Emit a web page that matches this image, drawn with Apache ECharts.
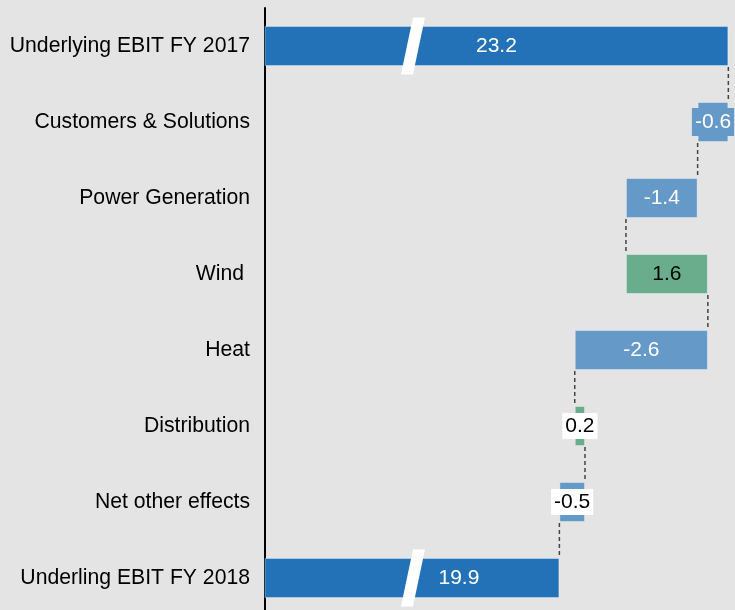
<!DOCTYPE html>
<html>
<head>
<meta charset="utf-8">
<script src="https://cdn.jsdelivr.net/npm/echarts@6/dist/echarts.min.js"></script>
<style>
  html, body { margin: 0; padding: 0; background: #e4e4e4; overflow: hidden; }
  #chart { width: 735px; height: 616px; }
</style>
</head>
<body>
<div id="chart"></div>
<script>
  // waterfall data, top to bottom
  var categories = ['Underlying EBIT FY 2017', 'Customers & Solutions', 'Power Generation', 'Wind ',
    'Heat', 'Distribution', 'Net other effects', 'Underling EBIT FY 2018'];
  var changes = [23.2, -0.6, -1.4, 1.6, -2.6, 0.2, -0.5, 19.9];
  var isTotal = [true, false, false, false, false, false, false, true];
  // where the white break slash sits on the two total bars
  var breakValue = 17.04;

  var COL_TOTAL = '#2372b7';
  var COL_NEG = '#6499c8';
  var COL_POS = '#6aad8c';
  var FONT = '"Liberation Sans", Arial, sans-serif';

  var baseData = [], barData = [], connectors = [], breaks = [];
  var running = 0;
  for (var i = 0; i < changes.length; i++) {
    var v = changes[i];
    var start, end;
    if (isTotal[i]) {
      start = 0; end = v;
      running = v;
      breaks.push([breakValue, i]);
    } else {
      start = running; end = running + v;
      running = end;
    }
    var lo = Math.min(start, end), hi = Math.max(start, end);
    baseData.push(lo);
    var color = isTotal[i] ? COL_TOTAL : (v < 0 ? COL_NEG : COL_POS);
    var label = { color: '#fff' };
    if (!isTotal[i] && v > 0) label.color = '#000';
    if (Math.abs(v) < 0.55 && !isTotal[i]) {
      label = { color: '#000', backgroundColor: '#fff', padding: [3, 3, 2, 3] };
    } else if (!isTotal[i] && Math.abs(v) < 1) {
      label = { color: '#fff', backgroundColor: color, padding: [4, 3, 3, 3] };
    }
    if (i === changes.length - 1) label.offset = [47, 0];
    barData.push({
      value: hi - lo,
      display: v,
      itemStyle: { color: color },
      label: label
    });
    if (i < changes.length - 1) connectors.push([Math.round(running * 10) / 10, i]);
  }

  var myChart = echarts.init(document.getElementById('chart'));
  var option = {
    backgroundColor: '#e4e4e4',
    animation: false,
    grid: { left: 265, right: 0, top: 8, bottom: 0 },
    xAxis: {
      type: 'value',
      min: 14.15,
      max: 23.33,
      show: false,
      splitLine: { show: false }
    },
    yAxis: {
      type: 'category',
      inverse: true,
      data: categories,
      axisLine: { show: true, lineStyle: { color: '#000', width: 2 } },
      axisTick: { show: false },
      axisLabel: { margin: 15, fontSize: 21.2, color: '#000', fontFamily: FONT }
    },
    series: [
      {
        type: 'bar',
        stack: 'w',
        barWidth: 40,
        itemStyle: { color: 'transparent' },
        silent: true,
        data: baseData
      },
      {
        type: 'bar',
        stack: 'w',
        barWidth: 40,
        itemStyle: { borderColor: 'rgba(255,255,255,0.35)', borderWidth: 1 },
        label: {
          show: true,
          position: 'inside',
          fontSize: 21,
          fontFamily: FONT,
          formatter: function (p) { return p.data.display.toFixed(1); }
        },
        z: 3,
        data: barData
      },
      {
        type: 'custom',
        z: 2,
        renderItem: function (params, api) {
          var v = api.value(0), idx = api.value(1);
          var p1 = api.coord([v, idx]);
          var p2 = api.coord([v, idx + 1]);
          return {
            type: 'line',
            shape: { x1: p1[0], y1: p1[1] + 21, x2: p2[0], y2: p2[1] - 21 },
            style: { stroke: '#444', lineWidth: 1.5, lineDash: [4, 3] }
          };
        },
        encode: { x: 0, y: 1 },
        data: connectors
      },
      {
        type: 'scatter',
        z: 5,
        symbol: 'path://M12,0 L24,0 L12,57 L0,57 Z',
        symbolSize: [24, 57],
        itemStyle: { color: '#fff', opacity: 1 },
        silent: true,
        data: breaks
      }
    ]
  };
  option && myChart.setOption(option);
</script>
</body>
</html>
